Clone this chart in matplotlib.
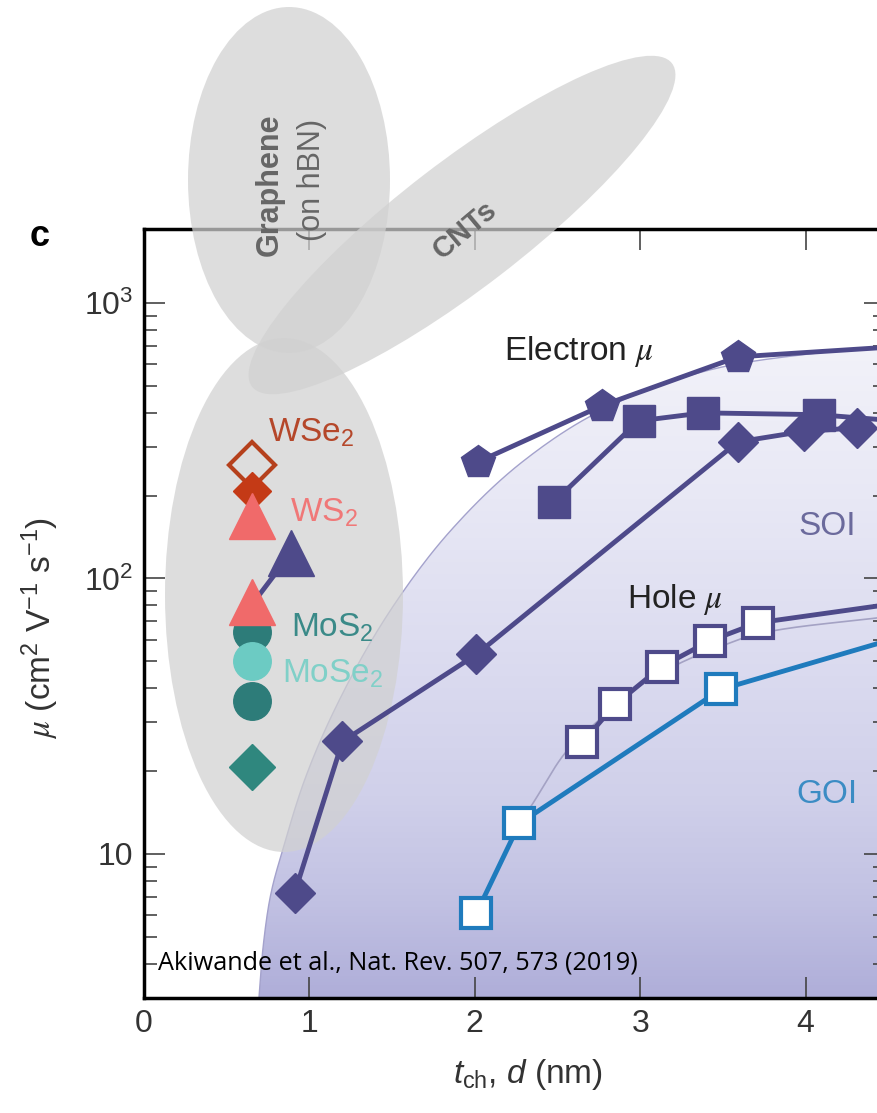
import numpy as np
import matplotlib
matplotlib.use("Agg")
import matplotlib.pyplot as plt
from matplotlib.patches import Ellipse, Polygon
from matplotlib.transforms import Affine2D
from matplotlib.colors import LinearSegmentedColormap
from matplotlib.ticker import FixedLocator, FixedFormatter, LogLocator, NullFormatter

plt.rcParams['font.family'] = ['Liberation Sans', 'DejaVu Sans']
plt.rcParams['mathtext.fontset'] = 'custom'
plt.rcParams['mathtext.rm'] = 'Liberation Sans'
plt.rcParams['mathtext.it'] = 'Liberation Sans:italic'
plt.rcParams['mathtext.cal'] = 'STIXGeneral:italic'

# ---------------- data ----------------
# electron mobility, thin-body SOI (three data sets)
elec_pent_x = [2.02, 2.77, 3.59, 4.60]
elec_pent_y = [265, 424, 637, 697]
elec_sq_x = [2.48, 2.99, 3.38, 4.08, 4.60]
elec_sq_y = [190, 373, 399, 393, 371]
elec_dia_x = [0.91, 1.20, 2.01, 3.59, 3.99, 4.31]
elec_dia_y = [7.2, 25.6, 53, 313, 342, 352]

# hole mobility (SOI) and GOI
hole_sq_x = [2.65, 2.85, 3.13, 3.42, 3.71, 4.60]
hole_sq_y = [25.4, 34.9, 47.9, 59.3, 69.0, 82]
goi_x = [2.01, 2.27, 3.49, 4.60]
goi_y = [6.1, 12.9, 39.6, 62]

# 2D semiconductors (monolayer thickness)
tmd_x = 0.65
wse2_hole_y = 259
wse2_elec_y = 207
ws2_tri_y = [168, 82]
mos2_circ_y = [64, 36]
mose2_circ_y = [50]
mos2_dia_y = [20.6]
tri_pair_x = [0.65, 0.89]
tri_pair_y = [80, 124]

# upper envelope of the SOI region and of the hole-mobility trend
soi_edge_x = [0.695, 0.719, 0.761, 0.840, 0.973, 1.184, 1.486, 1.849,
              2.284, 2.713, 3.178, 3.589, 4.024, 4.48]
soi_edge_y = [3.0, 4.53, 6.87, 10.4, 18.7, 36.5, 76, 148,
              264, 392, 518, 601, 653, 698]
hole_edge_x = [2.27, 2.34, 2.55, 2.75, 3.03, 3.32, 3.50, 3.71, 4.48]
hole_edge_y = [12.9, 14.9, 23.4, 30.6, 42, 51.8, 57, 63, 72.5]

x_ticks = [0, 1, 2, 3, 4]
y_ticks = [10, 100, 1000]
y_tick_labels = ['10', '10$^2$', '10$^3$']

# ---------------- styling ----------------
W, H, DPI = 877, 1113, 100
PURPLE = '#4e4a8a'
BLUE = '#1f7bbd'
GREY_TXT = '#666666'
ELL_FC = '#d1d1d1'
ELL_A = 0.73


def smooth_edge(xs, ys, n=20):
    """Monotone (Fritsch-Carlson) cubic through the points, in (x, log y)."""
    x = np.asarray(xs, float)
    y = np.log10(np.asarray(ys, float))
    h = np.diff(x)
    d = np.diff(y) / h
    m = np.empty_like(y)
    m[0], m[-1] = d[0], d[-1]
    for k in range(1, len(x) - 1):
        if d[k - 1] * d[k] <= 0:
            m[k] = 0.0
        else:
            w1 = 2 * h[k] + h[k - 1]
            w2 = h[k] + 2 * h[k - 1]
            m[k] = (w1 + w2) / (w1 / d[k - 1] + w2 / d[k])
    ox, oy = [], []
    for k in range(len(x) - 1):
        t = np.linspace(0, 1, n, endpoint=False)
        h00 = 2 * t**3 - 3 * t**2 + 1
        h10 = t**3 - 2 * t**2 + t
        h01 = -2 * t**3 + 3 * t**2
        h11 = t**3 - t**2
        ox.extend(x[k] + t * h[k])
        oy.extend(h00 * y[k] + h10 * h[k] * m[k] + h01 * y[k + 1] + h11 * h[k] * m[k + 1])
    ox.append(x[-1])
    oy.append(y[-1])
    return np.array(ox), 10 ** np.array(oy)


fig = plt.figure(figsize=(W / DPI, H / DPI), dpi=DPI)
ax = fig.add_axes([144 / W, (H - 998) / H, (885 - 144) / W, (998 - 229) / H])
ax.set_yscale('log')
ax.set_xlim(0, 4.48)
ax.set_ylim(3.0, 1855)

# pixel (y-down) transform for the loose annotations around the frame
px = Affine2D().scale(1, -1).translate(0, H).scale(1 / DPI) + fig.dpi_scale_trans

# shaded SOI region with vertical gradient
sx, sy = smooth_edge(soi_edge_x, soi_edge_y)
hx, hy = smooth_edge(hole_edge_x, hole_edge_y)
verts = list(zip(sx, sy)) + [(4.48, 3.0)]
region = Polygon(verts, closed=True, transform=ax.transData, fc='none', ec='none')
ax.add_patch(region)
cmap = LinearSegmentedColormap.from_list(
    'soi', [(0.0, '#afaed9'), (0.13, '#c2c2e3'), (0.26, '#d0d0ea'),
            (0.45, '#dcdcf0'), (0.65, '#e8e8f5'), (0.85, '#f2f2f9'),
            (1.0, '#f6f6fb')])
grad = np.linspace(0, 1, 256).reshape(-1, 1)
im = ax.imshow(grad, extent=[0, 1, 0, 1], transform=ax.transAxes, aspect='auto',
               cmap=cmap, origin='lower', zorder=0.5, interpolation='bilinear')
im.set_clip_path(region)
ax.plot(sx, sy, color='#a4a2cc', lw=1.0, zorder=0.8)
ax.plot(hx, hy, color='#a4a2c4', lw=1.2, zorder=0.8)

# grey ellipse of 2D semiconductors
ax.add_patch(Ellipse((284, 595), 238, 514, angle=0, transform=px,
                     fc=ELL_FC, ec='none', alpha=ELL_A, zorder=1))

# electron data
ax.plot(elec_pent_x, elec_pent_y, '-p', color=PURPLE, lw=3.5, ms=25, zorder=4)
ax.plot(elec_sq_x, elec_sq_y, '-s', color=PURPLE, lw=3.5, ms=23, zorder=4)
ax.plot(elec_dia_x, elec_dia_y, '-D', color=PURPLE, lw=3.5, ms=20, zorder=4)

# hole data
ax.plot(hole_sq_x, hole_sq_y, '-s', color=PURPLE, lw=3.5, ms=21, mfc='white',
        mec=PURPLE, mew=3, zorder=4)
ax.plot(goi_x, goi_y, '-s', color=BLUE, lw=3.5, ms=21, mfc='white',
        mec=BLUE, mew=3, zorder=4)

# 2D semiconductors
ax.plot([tmd_x], [wse2_hole_y], 'D', ms=23.5, mfc='none', mec='#b5401c', mew=3, zorder=5)
ax.plot([tmd_x], [wse2_elec_y], 'D', ms=19, color='#c43a16', zorder=5)
ax.plot(tri_pair_x, tri_pair_y, '-', color=PURPLE, lw=3.5, zorder=5)
ax.plot(tri_pair_x[1:], tri_pair_y[1:], '^', color=PURPLE, ms=33, zorder=5)
ax.plot([tmd_x] * len(mos2_circ_y), mos2_circ_y, 'o', color='#2d7c79', ms=27, zorder=5)
ax.plot([tmd_x] * len(ws2_tri_y), ws2_tri_y, '^', color='#f06a6a', ms=33, zorder=6)
ax.plot([tmd_x] * len(mose2_circ_y), mose2_circ_y, 'o', color='#6ccbc3', ms=27, zorder=6)
ax.plot([tmd_x] * len(mos2_dia_y), mos2_dia_y, 'D', color='#2f877e', ms=23, zorder=5)

lab = dict(ha='center', va='center', fontsize=24, zorder=7)
ax.text(1.01, 338, 'WSe$_2$', color='#b5472a', **lab)
ax.text(1.09, 173, 'WS$_2$', color='#f07878', **lab)
ax.text(1.14, 66, 'MoS$_2$', color='#3a8a88', **lab)
ax.text(1.14, 45, 'MoSe$_2$', color='#80d0c8', **lab)
ax.text(2.63, 664, r'Electron $\mathcal{\mu}$', color='#222222', **lab)
ax.text(3.21, 84, r'Hole $\mathcal{\mu}$', color='#222222', **lab)
ax.text(4.13, 154, 'SOI', color='#6b6a9c', **lab)
ax.text(4.13, 16.5, 'GOI', color='#3b8cc4', **lab)

# axes, ticks and labels
for s in ax.spines.values():
    s.set_linewidth(2.5)
    s.set_zorder(3)
ax.xaxis.set_major_locator(FixedLocator(x_ticks))
ax.xaxis.set_major_formatter(FixedFormatter([str(t) for t in x_ticks]))
ax.yaxis.set_major_locator(FixedLocator(y_ticks))
ax.yaxis.set_major_formatter(FixedFormatter(y_tick_labels))
ax.yaxis.set_minor_locator(LogLocator(base=10, subs=np.arange(2, 10)))
ax.yaxis.set_minor_formatter(NullFormatter())
ax.tick_params(which='both', direction='in', top=True, right=True,
               color='#444444', width=1.2, labelsize=23, labelcolor='#333333')
ax.tick_params(which='major', length=15, pad=8)
ax.tick_params(which='minor', length=9)

ax.set_ylabel(r'$\mathcal{\mu}$ (cm$^2$ V$^{-1}$ s$^{-1}$)', fontsize=24, color='#333333')
ax.yaxis.set_label_coords((40 - 144) / 741, (998 - 628) / 769)
ax.yaxis.label.set_va('center')
ax.set_xlabel(r'$t_{\mathrm{ch}}$, $d$ (nm)', fontsize=24, color='#333333')
ax.xaxis.set_label_coords((528 - 144) / 741, (998 - 1075) / 769)
ax.xaxis.label.set_va('center')

# graphene and CNT ellipses above the frame
ax.add_patch(Ellipse((289, 180), 202, 346, angle=0, transform=px, clip_on=False,
                     fc=ELL_FC, ec='none', alpha=ELL_A, zorder=8))
ax.add_patch(Ellipse((462, 225), 530, 126, angle=-37.6, transform=px, clip_on=False,
                     fc=ELL_FC, ec='none', alpha=ELL_A, zorder=8))
fig.text(270, 185, 'Graphene', transform=px, rotation=90, ha='center', va='center',
         fontsize=22, fontweight='bold', color=GREY_TXT, zorder=9)
fig.text(312, 180, '(on hBN)', transform=px, rotation=90, ha='center', va='center',
         fontsize=22, color=GREY_TXT, zorder=9)
fig.text(465, 230, 'CNTs', transform=px, rotation=40, ha='center', va='center',
         fontsize=21, fontweight='bold', color=GREY_TXT, zorder=9)

fig.text(40, 237, 'c', transform=px, ha='center', va='center', fontsize=26,
         fontweight='bold', color='black')
fig.text(158, 969, 'Akiwande et al., Nat. Rev. 507, 573 (2019)', transform=px,
         ha='left', va='baseline', fontsize=18.2, family='Open Sans', color='black',
         zorder=10)

fig.savefig('out.png', dpi=DPI)
